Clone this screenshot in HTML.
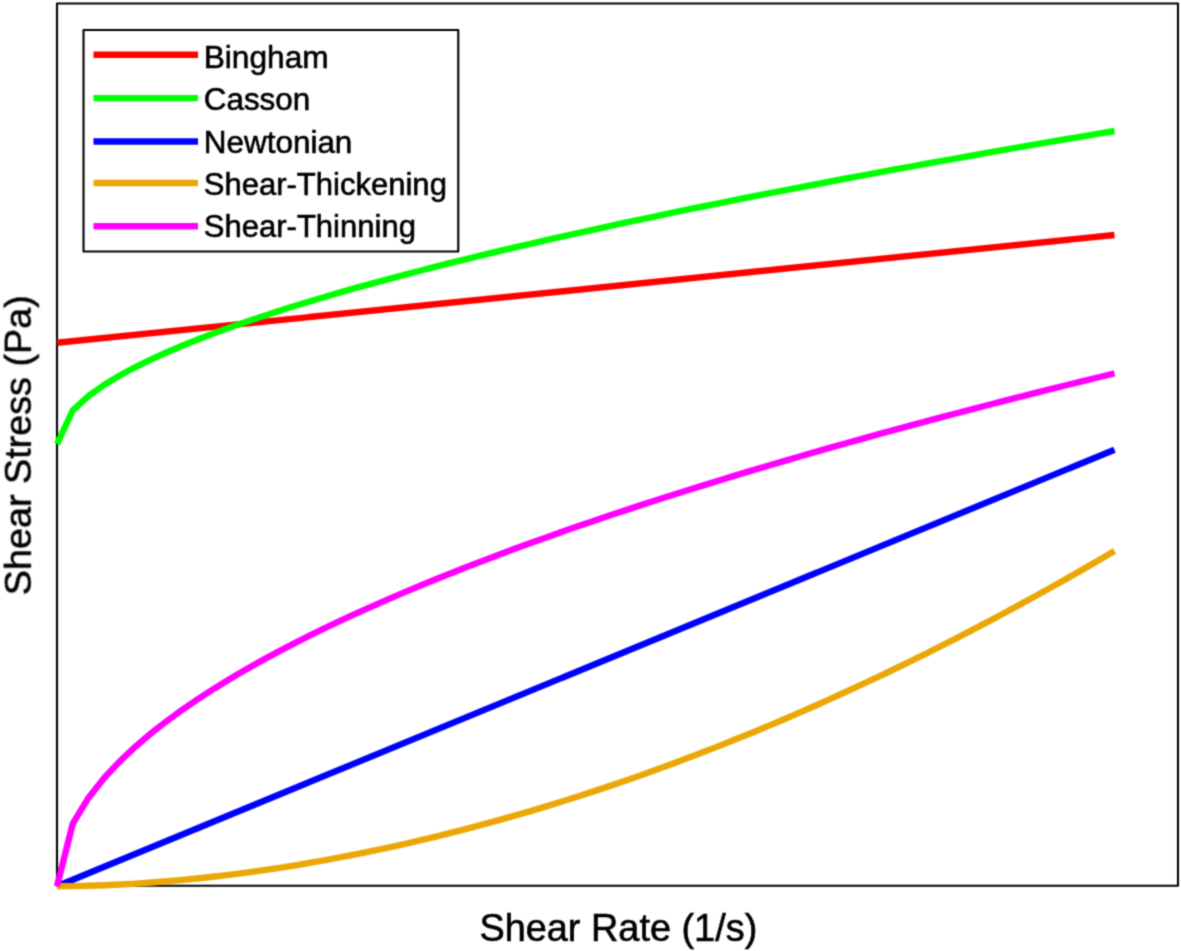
<!DOCTYPE html>
<html><head><meta charset="utf-8"><style>
html,body{margin:0;padding:0;background:#fff;}
body{width:1181px;height:951px;overflow:hidden;}
svg{display:block;}
text{font-family:"Liberation Sans",sans-serif;fill:#000;stroke:#000;stroke-width:0.6px;}
</style></head><body>
<svg width="1181" height="951" viewBox="0 0 1181 951">
<defs><filter id="bl" x="0" y="0" width="1181" height="951" filterUnits="userSpaceOnUse" color-interpolation-filters="sRGB"><feConvolveMatrix order="3" kernelMatrix="0.0361 0.1178 0.0361 0.1178 0.3846 0.1178 0.0361 0.1178 0.0361" edgeMode="none"/></filter></defs>
<rect x="0" y="0" width="1181" height="951" fill="#fff"/>
<g filter="url(#bl)">
<rect x="57" y="3.47" width="1121" height="882.26" fill="none" stroke="#000" stroke-width="2.1" stroke-linejoin="round"/>
<g fill="none" stroke-width="6.4" stroke-linejoin="round">
<path d="M57.0,342.8 L1114.5,235.0" stroke="#ff0000"/>
<path d="M57.00,444.04 L72.78,410.26 L88.57,395.91 L104.35,384.75 L120.13,375.24 L135.92,366.79 L151.70,359.09 L167.49,351.96 L183.27,345.29 L199.05,338.98 L214.84,332.97 L230.62,327.23 L246.40,321.72 L262.19,316.41 L277.97,311.28 L293.75,306.30 L309.54,301.47 L325.32,296.77 L341.10,292.18 L356.89,287.70 L372.67,283.33 L388.46,279.04 L404.24,274.85 L420.02,270.73 L435.81,266.69 L451.59,262.72 L467.37,258.81 L483.16,254.97 L498.94,251.19 L514.72,247.46 L530.51,243.79 L546.29,240.16 L562.07,236.59 L577.86,233.06 L593.64,229.57 L609.43,226.13 L625.21,222.73 L640.99,219.36 L656.78,216.03 L672.56,212.74 L688.34,209.48 L704.13,206.25 L719.91,203.06 L735.69,199.89 L751.48,196.76 L767.26,193.65 L783.04,190.57 L798.83,187.52 L814.61,184.49 L830.40,181.49 L846.18,178.51 L861.96,175.56 L877.75,172.63 L893.53,169.72 L909.31,166.83 L925.10,163.96 L940.88,161.11 L956.66,158.29 L972.45,155.48 L988.23,152.69 L1004.01,149.92 L1019.80,147.17 L1035.58,144.43 L1051.37,141.71 L1067.15,139.01 L1082.93,136.32 L1098.72,133.65 L1114.50,131.00" stroke="#00ff00"/>
<path d="M57.0,886.3 L1114.5,449.7" stroke="#0000ff"/>
<path d="M57.00,886.30 L72.78,886.17 L88.57,885.81 L104.35,885.26 L120.13,884.53 L135.92,883.61 L151.70,882.53 L167.49,881.28 L183.27,879.86 L199.05,878.29 L214.84,876.55 L230.62,874.66 L246.40,872.62 L262.19,870.42 L277.97,868.07 L293.75,865.58 L309.54,862.93 L325.32,860.14 L341.10,857.21 L356.89,854.13 L372.67,850.91 L388.46,847.55 L404.24,844.05 L420.02,840.41 L435.81,836.63 L451.59,832.71 L467.37,828.65 L483.16,824.46 L498.94,820.13 L514.72,815.67 L530.51,811.07 L546.29,806.34 L562.07,801.48 L577.86,796.48 L593.64,791.35 L609.43,786.09 L625.21,780.70 L640.99,775.18 L656.78,769.53 L672.56,763.75 L688.34,757.84 L704.13,751.80 L719.91,745.64 L735.69,739.34 L751.48,732.92 L767.26,726.38 L783.04,719.70 L798.83,712.91 L814.61,705.98 L830.40,698.93 L846.18,691.76 L861.96,684.46 L877.75,677.03 L893.53,669.49 L909.31,661.82 L925.10,654.02 L940.88,646.10 L956.66,638.07 L972.45,629.90 L988.23,621.62 L1004.01,613.22 L1019.80,604.69 L1035.58,596.04 L1051.37,587.27 L1067.15,578.39 L1082.93,569.38 L1098.72,560.25 L1114.50,551.00" stroke="#eaa706"/>
<path d="M57.00,886.30 L72.78,823.64 L88.57,797.68 L104.35,777.77 L120.13,760.98 L135.92,746.19 L151.70,732.81 L167.49,720.52 L183.27,709.07 L199.05,698.32 L214.84,688.15 L230.62,678.48 L246.40,669.24 L262.19,660.37 L277.97,651.85 L293.75,643.62 L309.54,635.66 L325.32,627.94 L341.10,620.45 L356.89,613.17 L372.67,606.07 L388.46,599.15 L404.24,592.40 L420.02,585.79 L435.81,579.33 L451.59,573.00 L467.37,566.79 L483.16,560.71 L498.94,554.73 L514.72,548.86 L530.51,543.09 L546.29,537.42 L562.07,531.84 L577.86,526.34 L593.64,520.93 L609.43,515.59 L625.21,510.34 L640.99,505.15 L656.78,500.03 L672.56,494.98 L688.34,490.00 L704.13,485.08 L719.91,480.21 L735.69,475.41 L751.48,470.66 L767.26,465.96 L783.04,461.31 L798.83,456.72 L814.61,452.17 L830.40,447.68 L846.18,443.22 L861.96,438.81 L877.75,434.45 L893.53,430.12 L909.31,425.84 L925.10,421.60 L940.88,417.39 L956.66,413.22 L972.45,409.09 L988.23,404.99 L1004.01,400.93 L1019.80,396.90 L1035.58,392.91 L1051.37,388.95 L1067.15,385.01 L1082.93,381.11 L1098.72,377.24 L1114.50,373.40" stroke="#ff00ff"/>
</g>
<rect x="83.52" y="29.94" width="374.74" height="221.53" fill="#fff" stroke="#000" stroke-width="2.1" stroke-linejoin="round"/>
<line x1="93.5" y1="54.8" x2="198" y2="54.8" stroke="#ff0000" stroke-width="6.4"/>
<text x="203.7" y="68.00" font-size="31.7" transform="translate(206.3,0) scale(1.0000,1) translate(-206.3,0)">Bingham</text>
<line x1="93.5" y1="98.1" x2="198" y2="98.1" stroke="#00ff00" stroke-width="6.4"/>
<text x="203.7" y="110.35" font-size="31.7" transform="translate(206.3,0) scale(0.9916,1) translate(-206.3,0)">Casson</text>
<line x1="93.5" y1="141.5" x2="198" y2="141.5" stroke="#0000ff" stroke-width="6.4"/>
<text x="203.7" y="152.70" font-size="31.7" transform="translate(206.3,0) scale(0.9928,1) translate(-206.3,0)">Newtonian</text>
<line x1="93.5" y1="183.0" x2="198" y2="183.0" stroke="#eaa706" stroke-width="6.4"/>
<text x="203.7" y="195.05" font-size="31.7" transform="translate(206.3,0) scale(0.9788,1) translate(-206.3,0)">Shear-Thickening</text>
<line x1="93.5" y1="226.3" x2="198" y2="226.3" stroke="#ff00ff" stroke-width="6.4"/>
<text x="203.7" y="237.40" font-size="31.7" transform="translate(206.3,0) scale(0.9793,1) translate(-206.3,0)">Shear-Thinning</text>
<text x="479.4" y="940.5" font-size="37.88">Shear Rate (1/s)</text>
<text transform="translate(30.8,595.3) rotate(-90)" x="0" y="0" font-size="37.76">Shear Stress (Pa)</text>
</g>
</svg>
</body></html>
